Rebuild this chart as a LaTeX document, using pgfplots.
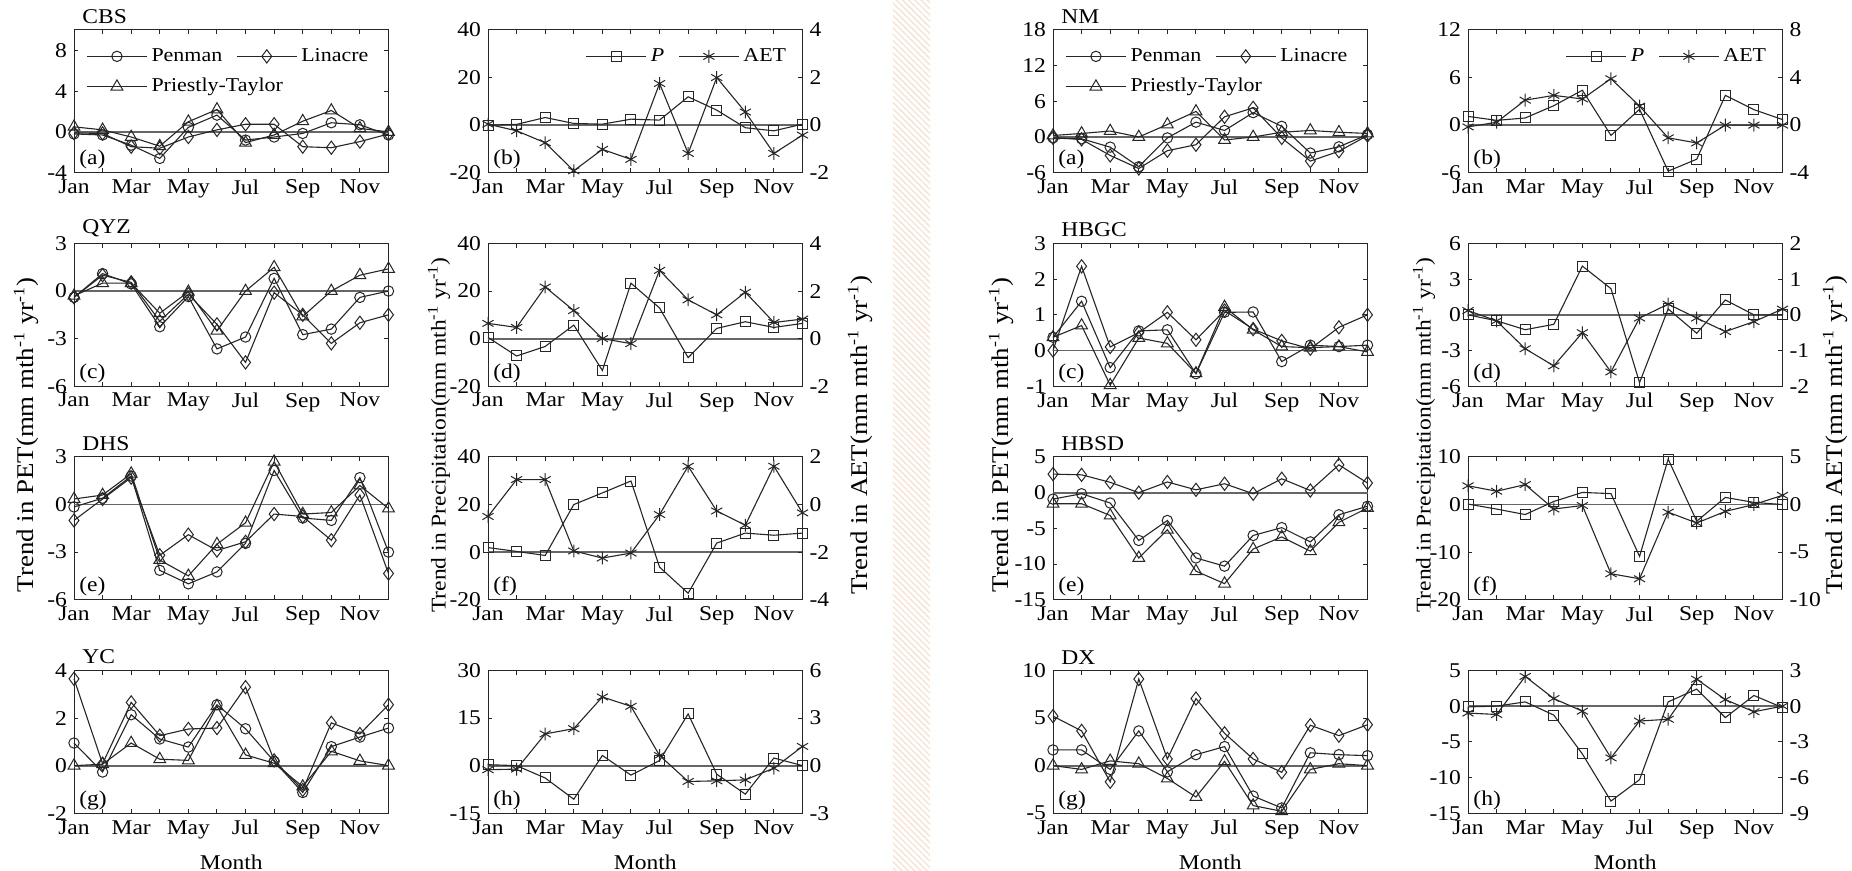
\documentclass[border=0pt]{standalone}
\usepackage{pgfplots}
\pgfplotsset{compat=1.18}
\usepackage{pgfplotstable}
\usepackage{fontspec}
\setmainfont{Liberation Serif}[FakeStretch=1.12]
\usetikzlibrary{patterns.meta}
\definecolor{stripe}{RGB}{250,224,204}

\newcommand{\tickfont}{\fontsize{10.5}{12}\selectfont}
\newcommand{\legfont}{\fontsize{9.8}{11}\selectfont}
\newcommand{\labfont}{\fontsize{10.5}{12}\selectfont}
\newcommand{\petfont}{\fontsize{12}{14}\selectfont}

\pgfplotsset{
  gbase/.style={scale only axis, width=157.25pt, height=71.35pt, anchor=north west,
    xmin=1, xmax=12, xtick={1,...,12}, xticklabels={Jan,,Mar,,May,,Jul,,Sep,,Nov,},
    tick align=inside, major tick length=2.2pt, clip=false,
    axis line style={black!85, line width=0.5pt},
    every tick/.style={black!85, line width=0.5pt},
    tick label style={font=\tickfont},
    /pgf/number format/assume math mode=true,
    xlabel style={font=\labfont, yshift=-1.5pt},
    legend image code/.code={\draw[mark repeat=2,mark phase=2,##1] plot coordinates {(0pt,0pt) (15pt,0pt) (30pt,0pt)};},
  },
  dline/.style={black!85, line width=0.55pt, mark options={solid, line width=0.5pt, fill=none}},
  zeroline/.style={black!60, line width=0.9pt, no marks, forget plot},
  penS/.style={mark=o, mark size=2.6pt},
  linS/.style={mark=diamond, mark size=3.3pt},
  ptS/.style={mark=triangle, mark size=3.4pt},
  pS/.style={mark=square, mark size=2.5pt},
  aS/.style={mark=asterisk, mark size=3.2pt},
  legA/.style={legend entries={Penman,Linacre,\makebox[0pt][l]{Priestly-Taylor}}, legend columns=2,
    legend cell align=left,
    legend style={at={(0,1)}, anchor=north west, xshift=3pt, yshift=-5pt, draw=none, fill=none,
      font=\legfont, row sep=3pt, /tikz/every even column/.append style={column sep=5pt}}},
  legB/.style={legend entries={\textit{P},AET}, legend columns=2,
    legend cell align=left,
    legend style={at={(1,1)}, anchor=north east, xshift=-3pt, yshift=-5pt, draw=none, fill=none,
      font=\legfont, /tikz/every even column/.append style={column sep=5pt}}},
  pextra/.style={}, pextraR/.style={},
}

\newcommand{\petpanel}[6]{%
\begin{axis}[gbase, at={(#1,#2)}, #4, ytick pos=both, xtick pos=both, pextra]
\addplot[zeroline] coordinates {(1,0) (12,0)};
\addplot[dline, penS] table[x=m, y=pen] {#3};
\addplot[dline, linS] table[x=m, y=lin] {#3};
\addplot[dline, ptS] table[x=m, y=pt] {#3};
\node[anchor=south west, inner sep=0pt, xshift=4pt, yshift=3pt, font=\tickfont] at (rel axis cs:0,1) {#5};
\node[anchor=south west, inner sep=0pt, xshift=2.5pt, yshift=1.5pt, font=\tickfont] at (rel axis cs:0,0) {(#6)};
\end{axis}}

\newcommand{\precpanel}[6]{%
\begin{axis}[gbase, at={(#1,#2)}, #4, ytick pos=left, xtick pos=both, pextra]
\addplot[zeroline] coordinates {(1,0) (12,0)};
\addplot[dline, pS] table[x=m, y=P] {#3};
\node[anchor=south west, inner sep=0pt, xshift=2.5pt, yshift=1.5pt, font=\tickfont] at (rel axis cs:0,0) {(#6)};
\end{axis}
\begin{axis}[gbase, at={(#1,#2)}, #5, hide x axis, axis y line*=right, pextraR]
\addlegendimage{dline, pS}
\addplot[dline, aS] table[x=m, y=A] {#3};
\end{axis}}

% ---------------- data ----------------
\pgfplotstableread{
m pen lin pt
1 -0.2 -0.1 0.5
2 -0.3 -0.15 0.2
3 -1.3 -1.45 -0.5
4 -2.6 -1.6 -1.4
5 0.45 -0.5 1.0
6 1.65 0.2 2.2
7 -0.8 0.75 -1.05
8 -0.5 0.75 -0.3
9 -0.15 -1.45 1.05
10 0.9 -1.55 2.1
11 0.7 -0.95 0.35
12 -0.3 -0.2 0.0
}\tCBSa
\pgfplotstableread{
m P A
1 0 0.04
2 0.3 -0.24
3 3.2 -0.74
4 0.7 -1.92
5 0.4 -1.02
6 2.5 -1.44
7 2.1 1.75
8 11.9 -1.19
9 6.3 2.0
10 -1.1 0.55
11 -2.4 -1.19
12 0.4 -0.42
}\tCBSb
\pgfplotstableread{
m pen lin pt
1 -0.4 -0.4 -0.3
2 1.1 1.0 0.5
3 0.45 0.55 0.5
4 -2.25 -1.9 -1.4
5 -0.35 -0.2 -0.05
6 -3.65 -2.1 -2.5
7 -2.9 -4.5 0.0
8 0.8 -0.1 1.5
9 -2.75 -1.5 -1.6
10 -2.4 -3.3 0.0
11 -0.4 -2.0 1.0
12 0.0 -1.5 1.4
}\tQYZa
\pgfplotstableread{
m P A
1 0.5 0.64
2 -7.3 0.47
3 -3.3 2.17
4 5.7 1.18
5 -13.4 0.0
6 23.3 -0.21
7 12.9 2.87
8 -8.0 1.63
9 4.3 1.0
10 7.1 1.95
11 4.7 0.68
12 6.4 0.82
}\tQYZb
\pgfplotstableread{
m pen lin pt
1 -0.15 -1.0 0.35
2 0.4 0.35 0.6
3 1.8 1.7 1.95
4 -4.15 -3.2 -3.5
5 -5.0 -1.9 -4.5
6 -4.25 -2.9 -2.5
7 -2.45 -2.35 -1.15
8 2.15 -0.6 2.7
9 -0.85 -0.75 -0.6
10 -1.0 -2.25 -0.5
11 1.7 0.6 1.2
12 -3.0 -4.35 -0.25
}\tDHSa
\pgfplotstableread{
m P A
1 1.9 -0.5
2 0.3 1.05
3 -1.4 1.05
4 20.0 -1.95
5 24.9 -2.25
6 29.9 -2.04
7 -6.3 -0.42
8 -17.3 1.61
9 3.8 -0.27
10 8.0 -0.87
11 7.1 1.61
12 8.0 -0.35
}\tDHSb
\pgfplotstableread{
m pen lin pt
1 0.95 3.65 0.0
2 -0.27 0.08 0.06
3 2.14 2.66 0.95
4 1.12 1.26 0.27
5 0.78 1.54 0.22
6 2.56 1.58 2.5
7 1.55 3.3 0.45
8 0.18 0.22 0.1
9 -1.13 -1.02 -0.88
10 0.8 1.8 0.6
11 1.2 1.33 0.2
12 1.58 2.56 0.0
}\tYCa
\pgfplotstableread{
m P A
1 0.3 -0.26
2 0.0 -0.22
3 -3.9 2.0
4 -10.6 2.33
5 3.2 4.33
6 -3.0 3.74
7 1.6 0.64
8 16.3 -1.0
9 -2.7 -0.96
10 -9.0 -0.9
11 2.4 -0.16
12 0.0 1.21
}\tYCb
\pgfplotstableread{
m pen lin pt
1 -0.15 -0.15 0.25
2 -0.3 -0.4 0.6
3 -1.7 -3.1 1.0
4 -5.0 -5.3 0.0
5 -0.15 -2.3 2.1
6 2.5 -1.3 4.3
7 1.1 3.4 -0.5
8 4.1 4.9 0.0
9 1.8 -0.15 0.8
10 -2.7 -4.05 1.1
11 -1.65 -2.4 0.8
12 0.4 0.25 0.6
}\tNMa
\pgfplotstableread{
m P A
1 1.1 -0.15
2 0.6 0.24
3 0.9 2.1
4 2.45 2.5
5 4.4 2.2
6 -1.3 3.9
7 2.0 1.6
8 -5.8 -1.07
9 -4.3 -1.5
10 3.75 0.0
11 1.95 0.0
12 0.7 0.0
}\tNMb
\pgfplotstableread{
m pen lin pt
1 0.37 0.0 0.37
2 1.38 2.36 0.7
3 -0.48 0.1 -0.97
4 0.55 0.5 0.35
5 0.58 1.07 0.2
6 -0.65 0.3 -0.64
7 1.07 1.12 1.22
8 1.08 0.6 0.58
9 -0.31 0.27 0.11
10 0.15 0.05 0.08
11 0.11 0.65 0.11
12 0.15 1.0 -0.04
}\tHBGCa
\pgfplotstableread{
m P A
1 0.0 0.12
2 -0.5 -0.17
3 -1.25 -0.95
4 -0.8 -1.43
5 4.1 -0.5
6 2.2 -1.6
7 -5.7 -0.09
8 0.5 0.3
9 -1.55 -0.09
10 1.25 -0.47
11 0.0 -0.19
12 0.0 0.16
}\tHBGCb
\pgfplotstableread{
m pen lin pt
1 -0.9 2.6 -1.55
2 -0.15 2.5 -1.55
3 -1.45 1.45 -3.2
4 -6.7 0.0 -9.15
5 -3.9 1.5 -5.2
6 -9.15 0.4 -11.0
7 -10.3 1.25 -12.75
8 -6.0 -0.15 -7.9
9 -4.9 1.95 -6.2
10 -6.9 0.3 -8.2
11 -3.1 3.9 -4.15
12 -1.9 1.35 -2.15
}\tHBSDa
\pgfplotstableread{
m P A
1 0.1 1.97
2 -0.95 1.4
3 -2.1 2.1
4 0.65 -0.47
5 2.55 -0.1
6 2.3 -7.27
7 -10.9 -7.8
8 9.55 -0.8
9 -3.5 -1.94
10 1.5 -0.72
11 0.45 0.0
12 0.0 0.97
}\tHBSDb
\pgfplotstableread{
m pen lin pt
1 1.65 5.2 0.0
2 1.65 3.65 -0.4
3 -0.4 -1.7 0.5
4 3.65 9.1 0.2
5 -0.65 0.7 -1.35
6 1.15 7.05 -3.3
7 2.0 3.4 0.45
8 -3.2 0.7 -4.2
9 -4.45 -0.7 -4.8
10 1.35 4.25 -0.4
11 1.15 3.15 0.2
12 1.05 4.3 0.0
}\tDXa
\pgfplotstableread{
m P A
1 -0.1 -0.58
2 0.0 -0.7
3 0.6 2.5
4 -1.25 0.64
5 -6.7 -0.42
6 -13.3 -4.35
7 -10.3 -1.25
8 0.6 -1.1
9 2.4 2.27
10 -1.6 0.55
11 1.5 -0.47
12 -0.2 0.0
}\tDXb

\begin{document}
\begin{tikzpicture}
\useasboundingbox (0pt,0pt) rectangle (926pt,435.5pt);
\fill[white] (0pt,0pt) rectangle (926pt,435.5pt);
\fill[pattern={Lines[angle=-45, distance=2.2pt, line width=0.6pt]}, pattern color=stripe] (446.5pt,0pt) rectangle (465pt,435.5pt);

% ---- left group ----
\pgfplotsset{pextra/.style={legA}, pextraR/.style={}}
\petpanel{37pt}{420.5pt}{\tCBSa}{ymin=-4, ymax=10, ytick={-4,0,4,8}}{CBS}{a}
\pgfplotsset{pextra/.style={}, pextraR/.style={legB}}
\precpanel{244pt}{420.5pt}{\tCBSb}{ymin=-20, ymax=40, ytick={-20,0,20,40}}{ymin=-2, ymax=4, ytick={-2,0,2,4}}{b}
\pgfplotsset{pextra/.style={}, pextraR/.style={}}
\petpanel{37pt}{313.75pt}{\tQYZa}{ymin=-6, ymax=3, ytick={-6,-3,0,3}}{QYZ}{c}
\precpanel{244pt}{313.75pt}{\tQYZb}{ymin=-20, ymax=40, ytick={-20,0,20,40}}{ymin=-2, ymax=4, ytick={-2,0,2,4}}{d}
\petpanel{37pt}{207pt}{\tDHSa}{ymin=-6, ymax=3, ytick={-6,-3,0,3}}{DHS}{e}
\precpanel{244pt}{207pt}{\tDHSb}{ymin=-20, ymax=40, ytick={-20,0,20,40}}{ymin=-4, ymax=2, ytick={-4,-2,0,2}}{f}
\pgfplotsset{pextra/.style={xlabel=Month}, pextraR/.style={}}
\petpanel{37pt}{100.25pt}{\tYCa}{ymin=-2, ymax=4, ytick={-2,0,2,4}}{YC}{g}
\precpanel{244pt}{100.25pt}{\tYCb}{ymin=-15, ymax=30, ytick={-15,0,15,30}}{ymin=-3, ymax=6, ytick={-3,0,3,6}}{h}

% ---- right group ----
\pgfplotsset{pextra/.style={legA}, pextraR/.style={}}
\petpanel{526.5pt}{420.5pt}{\tNMa}{ymin=-6, ymax=18, ytick={-6,0,6,12,18}}{NM}{a}
\pgfplotsset{pextra/.style={}, pextraR/.style={legB}}
\precpanel{734pt}{420.5pt}{\tNMb}{ymin=-6, ymax=12, ytick={-6,0,6,12}}{ymin=-4, ymax=8, ytick={-4,0,4,8}}{b}
\pgfplotsset{pextra/.style={}, pextraR/.style={}}
\petpanel{526.5pt}{313.75pt}{\tHBGCa}{ymin=-1, ymax=3, ytick={-1,0,1,2,3}}{HBGC}{c}
\precpanel{734pt}{313.75pt}{\tHBGCb}{ymin=-6, ymax=6, ytick={-6,-3,0,3,6}}{ymin=-2, ymax=2, ytick={-2,-1,0,1,2}}{d}
\petpanel{526.5pt}{207pt}{\tHBSDa}{ymin=-15, ymax=5, ytick={-15,-10,-5,0,5}}{HBSD}{e}
\precpanel{734pt}{207pt}{\tHBSDb}{ymin=-20, ymax=10, ytick={-20,-10,0,10}}{ymin=-10, ymax=5, ytick={-10,-5,0,5}}{f}
\pgfplotsset{pextra/.style={xlabel=Month}, pextraR/.style={}}
\petpanel{526.5pt}{100.25pt}{\tDXa}{ymin=-5, ymax=10, ytick={-5,0,5,10}}{DX}{g}
\precpanel{734pt}{100.25pt}{\tDXb}{ymin=-15, ymax=5, ytick={-15,-10,-5,0,5}}{ymin=-9, ymax=3, ytick={-9,-6,-3,0,3}}{h}

% ---- axis titles ----
\node[rotate=90, inner sep=0pt, font=\petfont] at (13pt,218pt) {Trend in PET(mm mth\textsuperscript{-1} yr\textsuperscript{-1})};
\node[rotate=90, inner sep=0pt, font=\labfont] at (219.5pt,218pt) {Trend in Precipitation(mm mth\textsuperscript{-1} yr\textsuperscript{-1})};
\node[rotate=90, inner sep=0pt, font=\petfont] at (430pt,218pt) {Trend in AET(mm mth\textsuperscript{-1} yr\textsuperscript{-1})};
\node[rotate=90, inner sep=0pt, font=\petfont] at (500.5pt,218pt) {Trend in PET(mm mth\textsuperscript{-1} yr\textsuperscript{-1})};
\node[rotate=90, inner sep=0pt, font=\labfont] at (712pt,218pt) {Trend in Precipitation(mm mth\textsuperscript{-1} yr\textsuperscript{-1})};
\node[rotate=90, inner sep=0pt, font=\petfont] at (917.5pt,218pt) {Trend in AET(mm mth\textsuperscript{-1} yr\textsuperscript{-1})};
\end{tikzpicture}
\end{document}
